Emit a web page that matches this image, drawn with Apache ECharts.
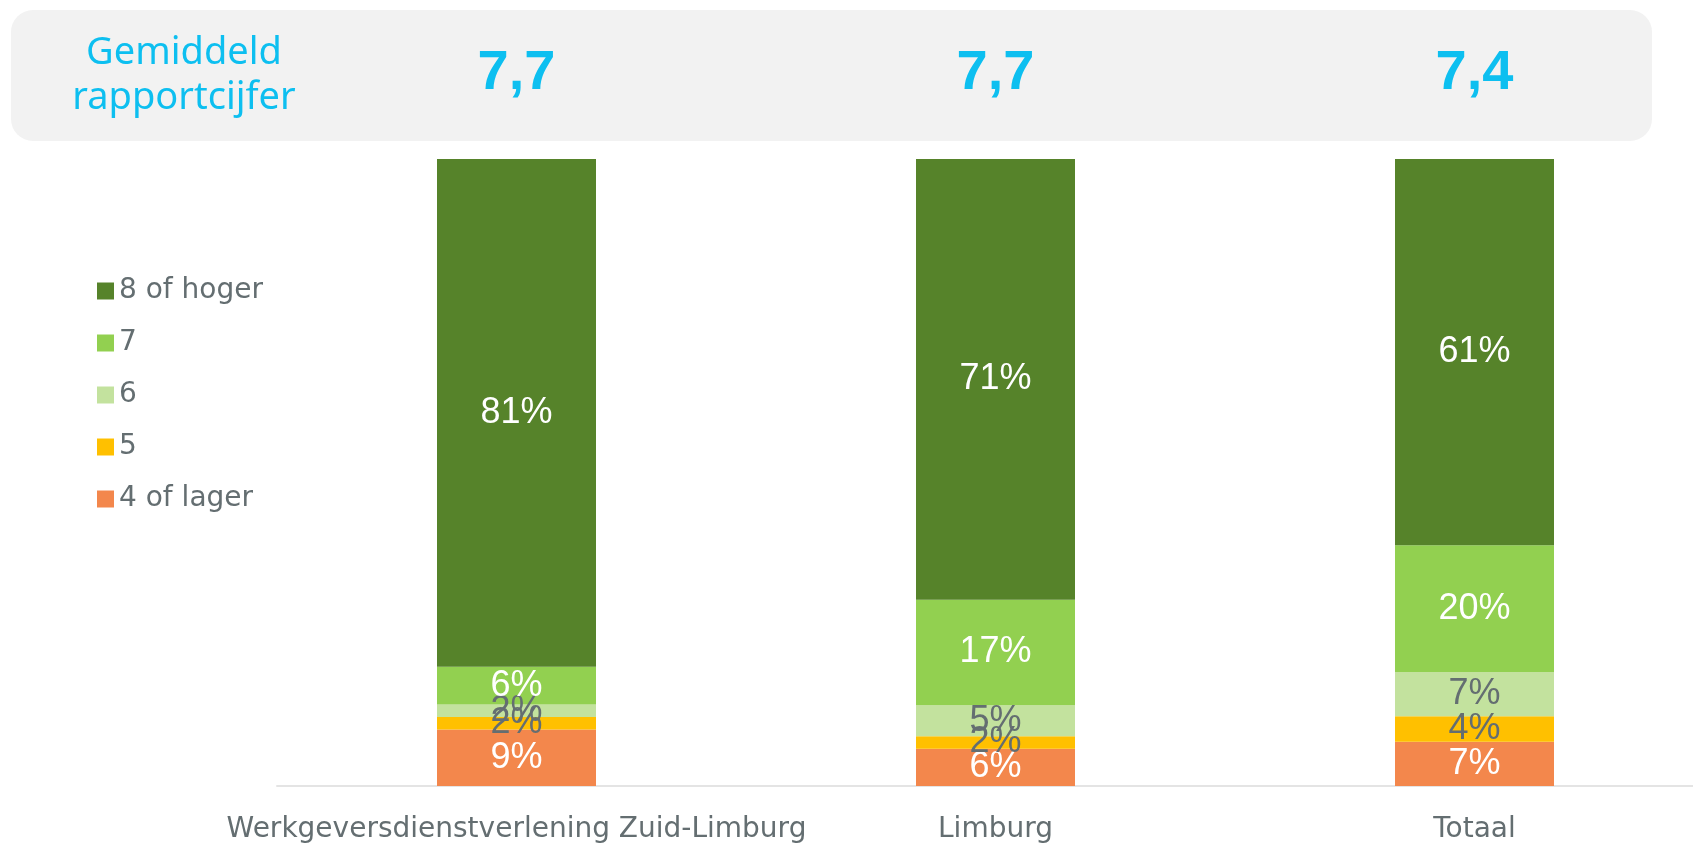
<!DOCTYPE html>
<html>
<head>
<meta charset="utf-8">
<script src="https://cdn.jsdelivr.net/npm/echarts@6/dist/echarts.min.js"></script>
<style>
  html, body { margin: 0; padding: 0; background: #ffffff; }
  #chart { width: 1693px; height: 843px; }
</style>
</head>
<body>
<div id="chart"></div>
<script>
const categories = ['Werkgeversdienstverlening Zuid-Limburg', 'Limburg', 'Totaal']
const averages = ['7,7', '7,7', '7,4']
const seriesNames = ['4 of lager', '5', '6', '7', '8 of hoger']
const lager4 = [9, 6, 7]
const cijfer5 = [2, 2, 4]
const cijfer6 = [2, 5, 7]
const cijfer7 = [6, 17, 20]
const hoger8 = [81, 71, 61]

const COLORS = ['#F3874C', '#FFC000', '#C3E29E', '#92D050', '#56832A']
const LABEL_COLORS = ['#ffffff', '#646E71', '#646E71', '#ffffff', '#ffffff']
const TEXT_GRAY = '#646E71'
const CYAN = '#0DBFF0'

const rows = [lager4, cijfer5, cijfer6, cijfer7, hoger8]
const totals = categories.map((_, i) => rows.reduce((s, r) => s + r[i], 0))

const chart = echarts.init(document.getElementById('chart'))

chart.setOption({
  animation: false,
  graphic: [
    {
      type: 'rect',
      z: -10,
      shape: { x: 11, y: 10, width: 1641, height: 131, r: 22 },
      style: { fill: '#F2F2F2' }
    },
    {
      type: 'text',
      z: 10,
      x: 184,
      y: 76,
      style: {
        text: 'Gemiddeld\nrapportcijfer',
        fill: CYAN,
        font: '38px "Noto Sans"',
        align: 'center',
        verticalAlign: 'middle',
        lineHeight: 45
      }
    }
  ],
  legend: {
    orient: 'vertical',
    left: 92,
    top: 272,
    itemWidth: 17,
    itemHeight: 17,
    itemGap: 24,
    icon: 'rect',
    data: seriesNames.slice().reverse(),
    textStyle: {
      fontFamily: 'DejaVu Sans',
      fontSize: 28,
      lineHeight: 28,
      color: TEXT_GRAY
    }
  },
  grid: {
    left: 277,
    width: 1437,
    top: 159,
    bottom: 57,
    outerBoundsMode: 'none'
  },
  xAxis: [
    {
      type: 'category',
      data: categories,
      axisLine: { lineStyle: { color: '#E4E4E4', width: 2 } },
      axisTick: { show: false },
      axisLabel: {
        interval: 0,
        fontFamily: 'DejaVu Sans',
        fontSize: 28,
        color: TEXT_GRAY,
        verticalAlign: 'middle',
        margin: 44
      }
    },
    {
      type: 'category',
      position: 'top',
      data: averages,
      axisLine: { show: false },
      axisTick: { show: false },
      axisLabel: {
        interval: 0,
        fontFamily: 'Liberation Sans',
        fontWeight: 'bold',
        fontSize: 56,
        color: CYAN,
        verticalAlign: 'middle',
        margin: 85
      }
    }
  ],
  yAxis: {
    type: 'value',
    min: 0,
    max: 100,
    show: false,
    splitLine: { show: false }
  },
  series: seriesNames.map((name, s) => ({
    name,
    type: 'bar',
    stack: 'total',
    barWidth: 159,
    itemStyle: { color: COLORS[s] },
    data: rows[s].map((v, i) => ({ value: (v / totals[i]) * 100, raw: v })),
    label: {
      show: true,
      position: 'inside',
      formatter: (p) => p.data.raw + '%',
      color: LABEL_COLORS[s],
      fontFamily: 'Liberation Sans',
      fontSize: 36
    }
  }))
})
</script>
</body>
</html>
